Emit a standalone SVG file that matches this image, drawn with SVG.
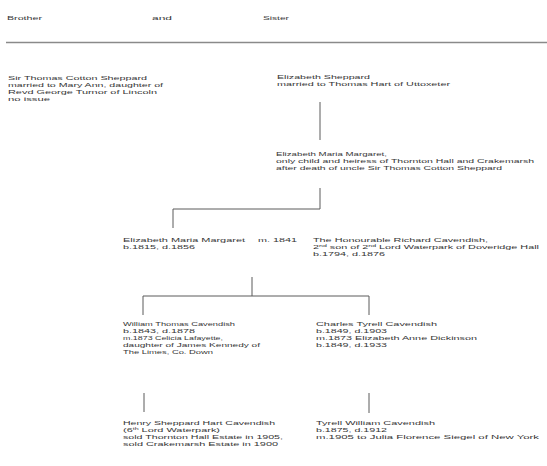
<svg xmlns="http://www.w3.org/2000/svg" width="547" height="466" viewBox="0 0 547 466">
<style>
  text { font-family: "Liberation Sans", Arial, sans-serif; font-size: 6.2px; fill: #363636; }
  .sup { font-size: 4px; }
  .ln { stroke: #5a5a5a; stroke-width: 1; fill: none; }
  .rule { stroke: #8a8a8a; stroke-width: 1.4; }
</style>
<rect width="547" height="466" fill="#fff"/>

<g id="header">
  <text x="7" y="19.5" textLength="35" lengthAdjust="spacingAndGlyphs">Brother</text>
  <text x="152" y="19.5" textLength="20" lengthAdjust="spacingAndGlyphs">and</text>
  <text x="263" y="19.5" textLength="26" lengthAdjust="spacingAndGlyphs">Sister</text>
  <line class="rule" x1="6" y1="42.5" x2="547" y2="42.5"/>
</g>

<g id="connectors">
  <path class="ln" d="M320,102 V140"/>
  <path class="ln" d="M320,188 V209 H173 V228"/>
  <path class="ln" d="M252,277 V296"/>
  <path class="ln" d="M143,315 V296 H369 V315"/>
  <path class="ln" d="M144,393 V412"/>
  <path class="ln" d="M369,393 V413"/>
</g>

<g id="thomas">
  <text x="8" y="79.5" textLength="139" lengthAdjust="spacingAndGlyphs">Sir Thomas Cotton Sheppard</text>
  <text x="8" y="86.5" textLength="155" lengthAdjust="spacingAndGlyphs">married to Mary Ann, daughter of</text>
  <text x="8" y="93.5" textLength="149" lengthAdjust="spacingAndGlyphs">Revd George Turnor of Lincoln</text>
  <text x="8" y="100.5" textLength="42" lengthAdjust="spacingAndGlyphs">no issue</text>
</g>

<g id="elizabeth-sheppard">
  <text x="277" y="78.8" textLength="93" lengthAdjust="spacingAndGlyphs">Elizabeth Sheppard</text>
  <text x="277" y="85.8" textLength="173" lengthAdjust="spacingAndGlyphs">married to Thomas Hart of Uttoxeter</text>
</g>

<g id="elizabeth-maria-margaret">
  <text x="276" y="155.5" textLength="111" lengthAdjust="spacingAndGlyphs">Elizabeth Maria Margaret,</text>
  <text x="276" y="162.5" textLength="258" lengthAdjust="spacingAndGlyphs">only child and heiress of Thornton Hall and Crakemarsh</text>
  <text x="276" y="169.5" textLength="226" lengthAdjust="spacingAndGlyphs">after death of uncle Sir Thomas Cotton Sheppard</text>
</g>

<g id="emm-married">
  <text x="123" y="241.5" textLength="122" lengthAdjust="spacingAndGlyphs">Elizabeth Maria Margaret</text>
  <text x="258" y="241.5" textLength="39" lengthAdjust="spacingAndGlyphs">m. 1841</text>
  <text x="123" y="248.5" textLength="72" lengthAdjust="spacingAndGlyphs">b.1815, d.1856</text>
</g>

<g id="richard-cavendish">
  <text x="313" y="241.5" textLength="175" lengthAdjust="spacingAndGlyphs">The Honourable Richard Cavendish,</text>
  <text x="313" y="248.5" textLength="226" lengthAdjust="spacingAndGlyphs">2<tspan class="sup" dy="-2">nd</tspan><tspan dy="2"> son of 2</tspan><tspan class="sup" dy="-2">nd</tspan><tspan dy="2"> Lord Waterpark of Doveridge Hall</tspan></text>
  <text x="313" y="255.5" textLength="72" lengthAdjust="spacingAndGlyphs">b.1794, d.1876</text>
</g>

<g id="william">
  <text x="123" y="326" textLength="112" lengthAdjust="spacingAndGlyphs">William Thomas Cavendish</text>
  <text x="123" y="333" textLength="72" lengthAdjust="spacingAndGlyphs">b.1843, d.1878</text>
  <text x="123" y="340" textLength="100" lengthAdjust="spacingAndGlyphs">m.1873 Celicia Lafayette,</text>
  <text x="123" y="347" textLength="137" lengthAdjust="spacingAndGlyphs">daughter of James Kennedy of</text>
  <text x="123" y="354" textLength="90" lengthAdjust="spacingAndGlyphs">The Limes, Co. Down</text>
</g>

<g id="charles">
  <text x="316" y="326" textLength="121" lengthAdjust="spacingAndGlyphs">Charles Tyrell Cavendish</text>
  <text x="316" y="333" textLength="71" lengthAdjust="spacingAndGlyphs">b.1849, d.1903</text>
  <text x="316" y="340" textLength="161" lengthAdjust="spacingAndGlyphs">m.1873 Elizabeth Anne Dickinson</text>
  <text x="316" y="347" textLength="71" lengthAdjust="spacingAndGlyphs">b.1849, d.1933</text>
</g>

<g id="henry">
  <text x="123" y="425" textLength="152" lengthAdjust="spacingAndGlyphs">Henry Sheppard Hart Cavendish</text>
  <text x="123" y="432" textLength="97" lengthAdjust="spacingAndGlyphs">(6<tspan class="sup" dy="-2">th</tspan><tspan dy="2"> Lord Waterpark)</tspan></text>
  <text x="123" y="439" textLength="160" lengthAdjust="spacingAndGlyphs">sold Thornton Hall Estate in 1905,</text>
  <text x="123" y="446" textLength="155" lengthAdjust="spacingAndGlyphs">sold Crakemarsh Estate in 1900</text>
</g>

<g id="tyrell">
  <text x="316" y="424.5" textLength="119" lengthAdjust="spacingAndGlyphs">Tyrell William Cavendish</text>
  <text x="316" y="431.5" textLength="71" lengthAdjust="spacingAndGlyphs">b.1875, d.1912</text>
  <text x="316" y="438.5" textLength="223" lengthAdjust="spacingAndGlyphs">m.1905 to Julia Florence Siegel of New York</text>
</g>
</svg>
